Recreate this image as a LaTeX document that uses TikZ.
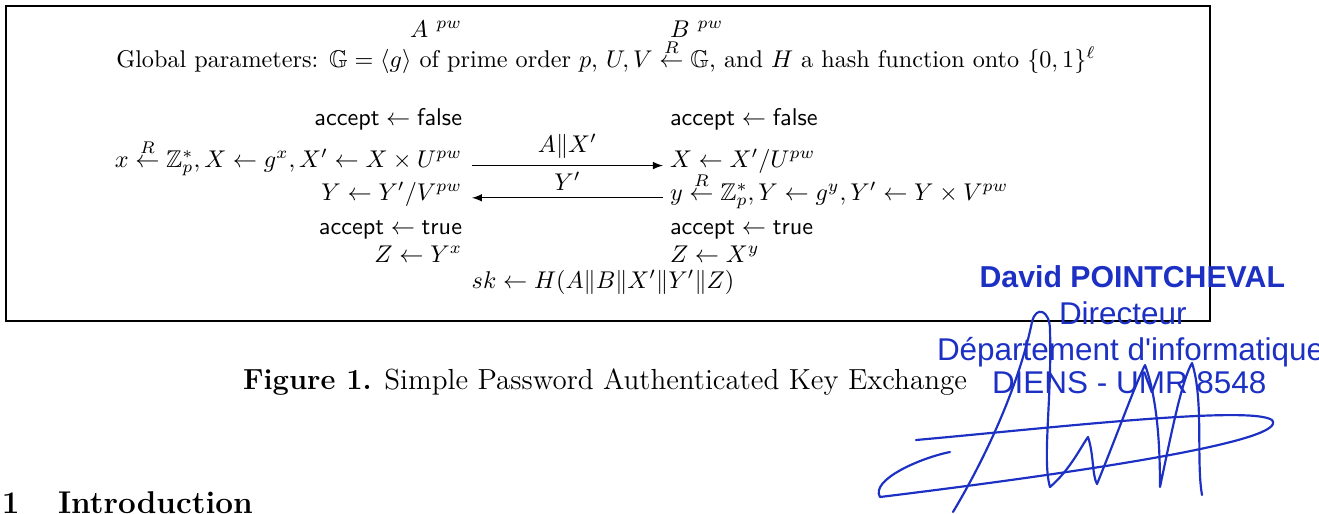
\documentclass[tikz,border=0pt]{standalone}
\usepackage{amsmath}
\usepackage{amssymb}
\usepackage{fontspec}
\newfontfamily\stampfont{Liberation Sans}
\definecolor{stampblue}{RGB}{28,48,196}

\begin{document}
\begin{tikzpicture}[x=0.4132pt, y=-0.4132pt,
  txt/.style={inner sep=0pt, outer sep=0pt},
  lcol/.style={txt, anchor=base east},
  rcol/.style={txt, anchor=base west},
  msg/.style={-latex, line width=0.45pt},
  lbl/.style={inner sep=0pt, above=2.8pt},
  stamp/.style={txt, text=stampblue, font=\stampfont\fontsize{13}{15}\selectfont},
  sig/.style={stampblue, line width=0.9pt, line cap=round, line join=round}]
\useasboundingbox (0,0) rectangle (1319,513);
\draw[line width=0.55pt] (6,6) rectangle (1210,321);

% parties and parameters
\node[lcol] (pa) at (462,37) {$A$ $^{pw}$};
\node[rcol] (pb) at (670,37) {$B$ $^{pw}$};
\node[txt, anchor=base] (glob) at (606,67) {Global parameters: $\mathbb{G}=\langle g\rangle$ of prime order $p$, $U,V \stackrel{R}{\leftarrow} \mathbb{G}$, and $H$ a hash function onto $\{0,1\}^\ell$};

% left party
\node[lcol] (a1) at (462,125) {$\mathsf{accept}\leftarrow\mathsf{false}$};
\node[lcol] (a2) at (462,167) {$x \stackrel{R}{\leftarrow} \mathbb{Z}_p^*, X \leftarrow g^x, X' \leftarrow X\times U^{pw}$};
\node[lcol] (a3) at (462,200) {$Y \leftarrow Y'/V^{pw}$};
\node[lcol] (a4) at (462,234) {$\mathsf{accept}\leftarrow\mathsf{true}$};
\node[lcol] (a5) at (462,262) {$Z \leftarrow Y^x$};

% right party
\node[rcol] (b1) at (670,125) {$\mathsf{accept}\leftarrow\mathsf{false}$};
\node[rcol] (b2) at (670,167) {$X \leftarrow X'/U^{pw}$};
\node[rcol] (b3) at (670,200) {$y \stackrel{R}{\leftarrow} \mathbb{Z}_p^*, Y \leftarrow g^y, Y' \leftarrow Y\times V^{pw}$};
\node[rcol] (b4) at (670,234) {$\mathsf{accept}\leftarrow\mathsf{true}$};
\node[rcol] (b5) at (670,262) {$Z \leftarrow X^y$};

\node[txt, anchor=base] (key) at (603,288) {$sk \leftarrow H(A\|B\|X'\|Y'\|Z)$};

% messages
\draw[msg] ([xshift=4.1pt,yshift=0.6pt]a2.base east) -- ([xshift=-2.9pt,yshift=0.6pt]b2.base west) node[midway, lbl] {$A\|X'$};
\draw[msg] ([xshift=-2.9pt,yshift=0.9pt]b3.base west) -- ([xshift=4.1pt,yshift=0.9pt]a3.base east) node[midway, lbl] {$Y'$};

\node[txt, anchor=base, font=\fontsize{12}{14}\selectfont] (cap) at (605,389) {\textbf{Figure 1.} Simple Password Authenticated Key Exchange};

\node[txt, anchor=base west, font=\fontsize{13}{15}\selectfont\bfseries] (secnum) at (2,513) {1};
\node[txt, anchor=base west, font=\fontsize{13}{15}\selectfont\bfseries] (sectitle) at (58,513) {Introduction};

% stamp and signature
\node[stamp, anchor=base east, font=\stampfont\bfseries\fontsize{12.5}{15}\selectfont] (who) at (1285,287) {David POINTCHEVAL};
\node[stamp, anchor=base west] (dir) at (1059,324) {Directeur};
\node[stamp, anchor=base west] (dept) at (937,360) {Département d'informatique};
\node[stamp, anchor=base west] (lab) at (992,393) {DIENS - UMR 8548};

\draw[sig] (953,512) .. controls (990,450) and (1020,380) .. (1032,322)
  .. controls (1036,305) and (1050,310) .. (1050,330)
  .. controls (1052,400) and (1042,460) .. (1050,487)
  .. controls (1070,470) and (1082,445) .. (1088,437)
  .. controls (1094,455) and (1092,475) .. (1097,484)
  .. controls (1115,440) and (1135,385) .. (1145,365)
  .. controls (1158,400) and (1160,450) .. (1160,487)
  .. controls (1172,430) and (1182,380) .. (1192,363)
  .. controls (1204,400) and (1196,460) .. (1202,495);
\draw[sig] (916,440) .. controls (1050,428) and (1250,405) .. (1272,420)
  .. controls (1290,440) and (1100,470) .. (880,497)
  .. controls (870,480) and (920,458) .. (950,452);
\end{tikzpicture}
\end{document}
